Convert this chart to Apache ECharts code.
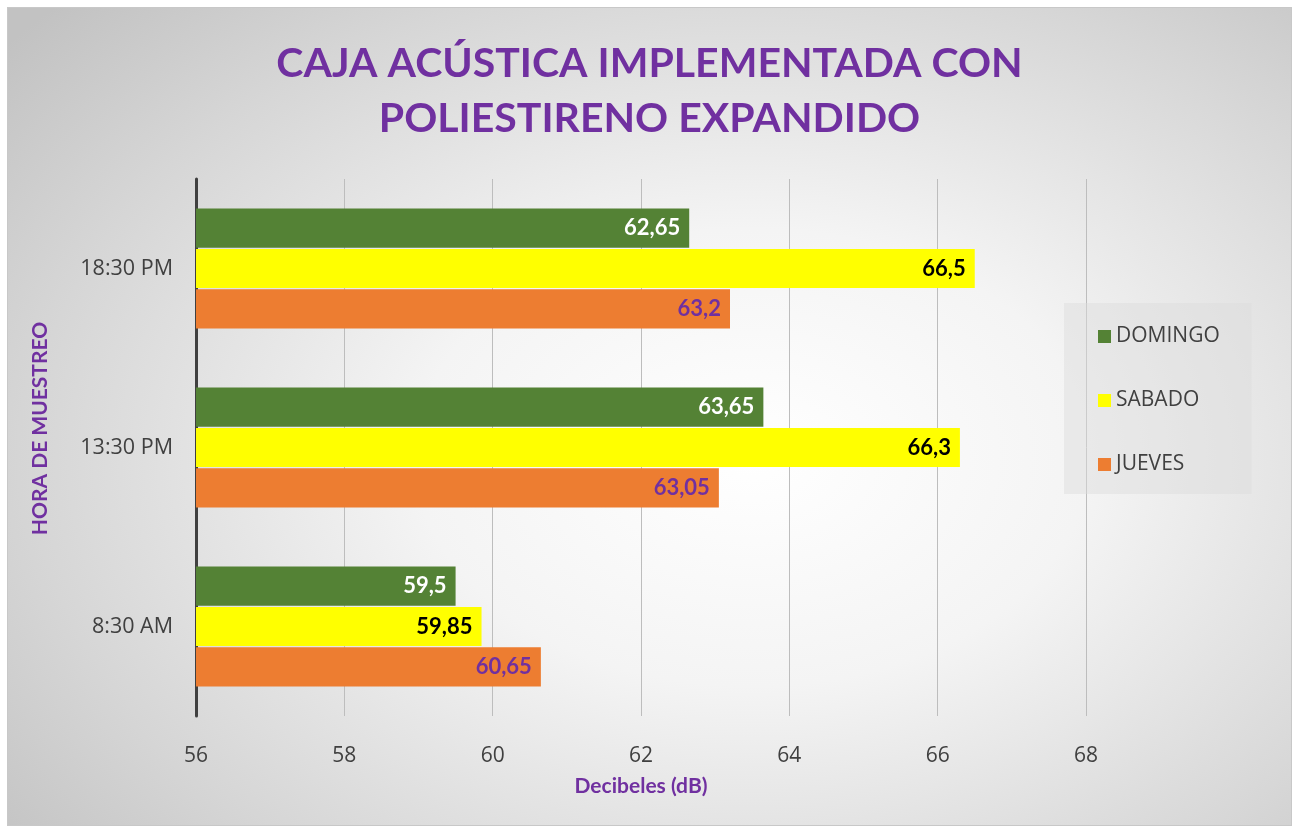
<!DOCTYPE html>
<html>
<head>
<meta charset="utf-8">
<script src="https://cdn.jsdelivr.net/npm/echarts@6/dist/echarts.min.js"></script>
<style>
html,body{margin:0;padding:0;background:#fff;}
#c{position:absolute;left:7px;top:7px;width:1285px;height:819px;box-sizing:border-box;border:1px solid #c8c8c8;
background:radial-gradient(ellipse 75% 80% at 58% 55%, #ffffff 0%, #f4f4f4 35%, #d6d6d6 75%, #c2c2c2 100%);}
</style>
</head>
<body>
<div id="c"></div>
<script>
const categories = ['8:30 AM', '13:30 PM', '18:30 PM'];
const seriesNames = ['DOMINGO', 'SABADO', 'JUEVES'];
const domingo = [59.5, 63.65, 62.65];
const sabado = [59.85, 66.3, 66.5];
const jueves = [60.65, 63.05, 63.2];
const xTicks = { min: 56, max: 68, interval: 2 };

const colors = ['#548235', '#FFFF00', '#ED7D31'];
const labelColors = ['#FFFFFF', '#000000', '#7030A0'];
const values = [domingo, sabado, jueves];

const chart = echarts.init(document.getElementById('c'), null, {renderer: 'canvas'});
const fmt = p => String(p.value).replace('.', ',');

chart.setOption({
  backgroundColor: 'transparent',
  animation: false,
  title: {
    text: 'CAJA ACÚSTICA IMPLEMENTADA CON\nPOLIESTIRENO EXPANDIDO',
    left: 'center',
    top: 23,
    textStyle: {
      fontFamily: 'Lato', fontWeight: 'bold', fontSize: 41, color: '#7030A0', lineHeight: 55
    }
  },
  legend: {
    orient: 'vertical',
    left: 1056,
    top: 295,
    padding: [23, 32, 19, 34],
    backgroundColor: 'rgba(220,220,220,0.45)',
    itemGap: 43,
    itemWidth: 13,
    itemHeight: 13,
    icon: 'rect',
    data: seriesNames,
    textStyle: { fontFamily: 'Open Sans', fontSize: 21, color: '#404040' }
  },
  grid: { left: 188, right: 205, top: 171, bottom: 109, containLabel: false },
  xAxis: {
    type: 'value',
    min: xTicks.min, max: xTicks.max, interval: xTicks.interval,
    name: 'Decibeles (dB)',
    nameLocation: 'middle',
    nameGap: 60,
    nameTextStyle: { fontFamily: 'Lato', fontWeight: 'bold', fontSize: 21, color: '#7030A0' },
    axisLine: { show: false },
    axisTick: { show: false },
    axisLabel: { fontFamily: 'Open Sans', fontSize: 21, color: '#404040', margin: 30 },
    splitLine: { show: true, lineStyle: { color: '#bdbdbd', width: 1 } }
  },
  yAxis: {
    type: 'category',
    data: categories,
    name: 'HORA DE MUESTREO',
    nameLocation: 'middle',
    nameGap: 145,
    nameTextStyle: { fontFamily: 'Lato', fontWeight: 'bold', fontSize: 21, color: '#7030A0', padding: [0, 0, 0, 38] },
    axisLine: { show: true, lineStyle: { color: '#404040', width: 3 } },
    axisTick: { show: false },
    axisLabel: { fontFamily: 'Open Sans', fontSize: 21.5, color: '#404040', margin: 23 },
    splitLine: { show: false }
  },
  series: seriesNames.map((name, i) => ({
    name: name,
    type: 'bar',
    data: values[i],
    barCategoryGap: '33%',
    barGap: '3%',
    itemStyle: { color: colors[i] },
    label: {
      show: true,
      position: 'insideRight',
      distance: 9,
      formatter: fmt,
      fontFamily: 'Lato', fontWeight: 'bold', fontSize: 22, color: labelColors[i]
    }
  }))
});
</script>
</body>
</html>
